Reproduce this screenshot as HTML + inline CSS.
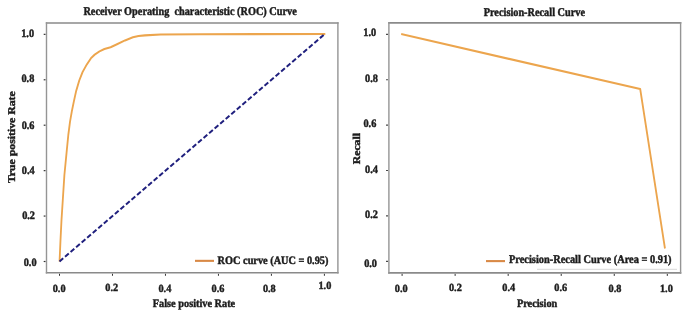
<!DOCTYPE html>
<html><head><meta charset="utf-8"><style>
html,body{margin:0;padding:0;background:#fff;width:685px;height:313px;overflow:hidden}
svg{display:block;will-change:transform;filter:blur(0.35px)}
text{font-family:"Liberation Serif",serif}
</style></head><body>
<svg width="685" height="313" viewBox="0 0 685 313">
<path d="M45.8,23.0H338.59999999999997M45.8,272.8H338.59999999999997" stroke="#8a8a8a" stroke-width="1.6"/>
<path d="M46.5,22.2V273.6M337.9,22.2V273.6" stroke="#959595" stroke-width="1.4"/>
<line x1="59.50" y1="273.8" x2="59.50" y2="275.8" stroke="#333" stroke-width="1"/>
<line x1="45.5" y1="261.50" x2="43.7" y2="261.50" stroke="#333" stroke-width="1.2"/>
<line x1="112.48" y1="273.8" x2="112.48" y2="275.8" stroke="#333" stroke-width="1"/>
<line x1="45.5" y1="216.07" x2="43.7" y2="216.07" stroke="#333" stroke-width="1.2"/>
<line x1="165.46" y1="273.8" x2="165.46" y2="275.8" stroke="#333" stroke-width="1"/>
<line x1="45.5" y1="170.64" x2="43.7" y2="170.64" stroke="#333" stroke-width="1.2"/>
<line x1="218.44" y1="273.8" x2="218.44" y2="275.8" stroke="#333" stroke-width="1"/>
<line x1="45.5" y1="125.21" x2="43.7" y2="125.21" stroke="#333" stroke-width="1.2"/>
<line x1="271.42" y1="273.8" x2="271.42" y2="275.8" stroke="#333" stroke-width="1"/>
<line x1="45.5" y1="79.78" x2="43.7" y2="79.78" stroke="#333" stroke-width="1.2"/>
<line x1="324.40" y1="273.8" x2="324.40" y2="275.8" stroke="#333" stroke-width="1"/>
<line x1="45.5" y1="34.35" x2="43.7" y2="34.35" stroke="#333" stroke-width="1.2"/>
<path d="M388.2,22.9H681.3000000000001M388.2,272.9H681.3000000000001" stroke="#8a8a8a" stroke-width="1.6"/>
<path d="M388.9,22.099999999999998V273.7M680.6,22.099999999999998V273.7" stroke="#959595" stroke-width="1.4"/>
<line x1="402.10" y1="273.9" x2="402.10" y2="275.9" stroke="#333" stroke-width="1"/>
<line x1="387.9" y1="261.30" x2="386.09999999999997" y2="261.30" stroke="#333" stroke-width="1.2"/>
<line x1="455.14" y1="273.9" x2="455.14" y2="275.9" stroke="#333" stroke-width="1"/>
<line x1="387.9" y1="215.91" x2="386.09999999999997" y2="215.91" stroke="#333" stroke-width="1.2"/>
<line x1="508.18" y1="273.9" x2="508.18" y2="275.9" stroke="#333" stroke-width="1"/>
<line x1="387.9" y1="170.52" x2="386.09999999999997" y2="170.52" stroke="#333" stroke-width="1.2"/>
<line x1="561.22" y1="273.9" x2="561.22" y2="275.9" stroke="#333" stroke-width="1"/>
<line x1="387.9" y1="125.13" x2="386.09999999999997" y2="125.13" stroke="#333" stroke-width="1.2"/>
<line x1="614.26" y1="273.9" x2="614.26" y2="275.9" stroke="#333" stroke-width="1"/>
<line x1="387.9" y1="79.74" x2="386.09999999999997" y2="79.74" stroke="#333" stroke-width="1.2"/>
<line x1="667.30" y1="273.9" x2="667.30" y2="275.9" stroke="#333" stroke-width="1"/>
<line x1="387.9" y1="34.35" x2="386.09999999999997" y2="34.35" stroke="#333" stroke-width="1.2"/>
<g text-rendering="geometricPrecision" font-family="Liberation Serif" font-weight="bold" fill="#1c1c1c" stroke="#1c1c1c" stroke-width="0.4"><text transform="translate(59.10,291.50) scale(1,1.06)" text-anchor="middle" font-size="10.3">0.0</text>
<text transform="translate(401.20,291.60) scale(1,1.06)" text-anchor="middle" font-size="10.3">0.0</text>
<text transform="translate(111.78,291.30) scale(1,1.06)" text-anchor="middle" font-size="10.3">0.2</text>
<text transform="translate(455.34,291.30) scale(1,1.06)" text-anchor="middle" font-size="10.3">0.2</text>
<text transform="translate(164.86,291.60) scale(1,1.06)" text-anchor="middle" font-size="10.3">0.4</text>
<text transform="translate(508.78,291.30) scale(1,1.06)" text-anchor="middle" font-size="10.3">0.4</text>
<text transform="translate(218.04,291.60) scale(1,1.06)" text-anchor="middle" font-size="10.3">0.6</text>
<text transform="translate(560.72,291.30) scale(1,1.06)" text-anchor="middle" font-size="10.3">0.6</text>
<text transform="translate(269.32,291.80) scale(1,1.06)" text-anchor="middle" font-size="10.3">0.8</text>
<text transform="translate(615.06,292.10) scale(1,1.06)" text-anchor="middle" font-size="10.3">0.8</text>
<text transform="translate(324.90,289.40) scale(1,1.06)" text-anchor="middle" font-size="10.3">1.0</text>
<text transform="translate(666.40,292.30) scale(1,1.06)" text-anchor="middle" font-size="10.3">1.0</text>
<text transform="translate(36.6,266.20) scale(1,1.11)" text-anchor="end" font-size="10.3">0.0</text>
<text transform="translate(377.0,266.50) scale(1,1.11)" text-anchor="end" font-size="10.3">0.0</text>
<text transform="translate(35.0,218.60) scale(1,1.11)" text-anchor="end" font-size="10.3">0.2</text>
<text transform="translate(377.9,217.90) scale(1,1.11)" text-anchor="end" font-size="10.3">0.2</text>
<text transform="translate(34.699999999999996,173.70) scale(1,1.11)" text-anchor="end" font-size="10.3">0.4</text>
<text transform="translate(377.9,173.00) scale(1,1.11)" text-anchor="end" font-size="10.3">0.4</text>
<text transform="translate(34.5,129.00) scale(1,1.11)" text-anchor="end" font-size="10.3">0.6</text>
<text transform="translate(376.3,126.90) scale(1,1.11)" text-anchor="end" font-size="10.3">0.6</text>
<text transform="translate(34.3,81.90) scale(1,1.11)" text-anchor="end" font-size="10.3">0.8</text>
<text transform="translate(377.90000000000003,82.40) scale(1,1.11)" text-anchor="end" font-size="10.3">0.8</text>
<text transform="translate(34.099999999999994,37.30) scale(1,1.11)" text-anchor="end" font-size="10.3">1.0</text>
<text transform="translate(376.2,36.10) scale(1,1.11)" text-anchor="end" font-size="10.3">1.0</text>
<text transform="translate(83.4,14.8) scale(1,1.15)" text-anchor="start" font-size="10.3" xml:space="preserve">Receiver Operating&#160; characteristic (ROC) Curve</text>
<text transform="translate(483.7,15.6) scale(1,1.15)" text-anchor="start" font-size="10.3">Precision-Recall Curve</text>
<text transform="translate(152.8,307.2) scale(1,1.11)" text-anchor="start" font-size="10.3">False positive Rate</text>
<text transform="translate(516.9,307.2) scale(1,1.11)" text-anchor="start" font-size="10.3">Precision</text>
<text transform="translate(14.9,183.1) scale(1,1.13) rotate(-90)" text-anchor="start" font-size="10.4">True positive Rate</text>
<text transform="translate(359.7,164.3) scale(1,1.13) rotate(-90)" text-anchor="start" font-size="10.4">Recall</text>
<text transform="translate(217.6,264.3) scale(1,1.1)" text-anchor="start" font-size="10.3">ROC curve (AUC = 0.95)</text>
<text transform="translate(509.0,262.7) scale(1,1.13)" text-anchor="start" font-size="10.38">Precision-Recall Curve (Area = 0.91)</text></g>
<line x1="195" y1="260.85" x2="214" y2="260.85" stroke="#D98946" stroke-width="2.1"/>
<line x1="486" y1="261.1" x2="505" y2="261.1" stroke="#D98946" stroke-width="2.1"/>
<line x1="537" y1="269.3" x2="677" y2="269.3" stroke="#d8d8d8" stroke-width="1"/>
<g transform="scale(0.87,1)"><polyline points="68.51,260.6 69.54,240 70.69,220 72.18,200 74.02,175 76.55,152.4 78.51,135 80.46,121.9 82.53,111.5 84.94,101.2 87.59,90.8 91.15,80.4 94.94,72 99.89,64.3 104.48,58.3 108.85,54.6 114.37,51.4 120.00,49.0 127.13,47.2 134.48,44.2 143.68,40.4 152.76,37.3 159.20,36 166.55,35.4 184.60,34.5 229.89,34.2 372.87,34.0" fill="none" stroke="#ECA54D" stroke-width="2.1" stroke-linejoin="round" stroke-linecap="square"/>
<polyline points="462.18,34.3 735.86,89.0 764.14,247.5" fill="none" stroke="#ECA54D" stroke-width="2.1" stroke-linejoin="round" stroke-linecap="square"/></g>
<line x1="59.5" y1="261.5" x2="324.4" y2="34.3" stroke="#20207e" stroke-width="2" stroke-dasharray="4.9 2.4"/>
</svg>
</body></html>
